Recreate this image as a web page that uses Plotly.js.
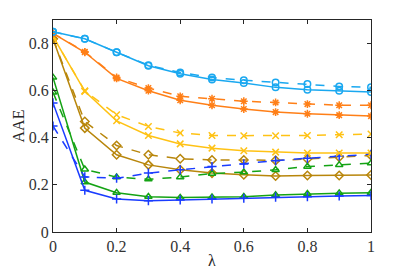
<!DOCTYPE html>
<html><head><meta charset="utf-8">
<script src="https://cdn.plot.ly/plotly-3.0.1.min.js"></script>
<style>html,body{margin:0;padding:0;background:#fff}#chart{width:409px;height:273px}</style>
</head><body><div id="chart"></div>
<script>
const lambda = [0,0.1,0.2,0.3,0.4,0.5,0.6,0.7,0.8,0.9,1.0];
const cyanSolid   = [0.850,0.820,0.763,0.706,0.672,0.647,0.633,0.614,0.604,0.600,0.594];
const cyanDashed  = [0.850,0.820,0.763,0.708,0.677,0.656,0.644,0.635,0.628,0.618,0.614];
const orangeSolid = [0.843,0.763,0.652,0.600,0.559,0.538,0.522,0.509,0.502,0.496,0.492];
const orangeDashed= [0.843,0.765,0.656,0.611,0.576,0.566,0.555,0.550,0.543,0.538,0.538];
const yellowSolid = [0.830,0.597,0.472,0.410,0.374,0.356,0.345,0.339,0.335,0.335,0.335];
const yellowDashed= [0.830,0.599,0.498,0.448,0.420,0.410,0.409,0.409,0.410,0.413,0.416];
const brownSolid  = [0.820,0.441,0.328,0.285,0.264,0.250,0.243,0.238,0.240,0.240,0.242];
const brownDashed = [0.820,0.469,0.367,0.328,0.311,0.306,0.306,0.304,0.310,0.318,0.325];
const greenSolid  = [0.656,0.212,0.167,0.150,0.146,0.148,0.150,0.157,0.162,0.165,0.167];
const greenDashed = [0.593,0.266,0.233,0.224,0.233,0.248,0.254,0.264,0.278,0.285,0.292];
const blueSolid   = [0.548,0.177,0.140,0.133,0.136,0.140,0.143,0.148,0.150,0.153,0.155];
const blueDashed  = [0.450,0.234,0.228,0.250,0.264,0.278,0.289,0.303,0.313,0.323,0.330];
const xTicks = [0,0.2,0.4,0.6,0.8,1];
const xTickText = ['0','0.2','0.4','0.6','0.8','1'];
const yTicks = [0,0.2,0.4,0.6,0.8];
const yTickText = ['0','0.2','0.4','0.6','0.8'];

const C = {cyan:'#1aa8f0', orange:'#ff7f17', yellow:'#ffc214', brown:'#b8860b', green:'#14a314', blue:'#1a3cff'};
function tr(y, color, symbol, dash){
  return {x: lambda, y: y, type:'scatter', mode:'lines+markers',
    line:{color:color, width:1.5, dash:dash},
    marker:{symbol:symbol, size:6.5, color:color, line:{color:color, width:1.5}},
    showlegend:false};
}
const data = [
  tr(brownDashed, C.brown, 'diamond-open', 'dash'),
  tr(brownSolid, C.brown, 'diamond-open', 'solid'),
  tr(greenDashed, C.green, 'triangle-up-open', 'dash'),
  tr(greenSolid, C.green, 'triangle-up-open', 'solid'),
  tr(blueDashed, C.blue, 'cross-thin-open', 'dash'),
  tr(blueSolid, C.blue, 'cross-thin-open', 'solid'),
  tr(yellowDashed, C.yellow, 'x-thin-open', 'dash'),
  tr(yellowSolid, C.yellow, 'x-thin-open', 'solid'),
  tr(orangeDashed, C.orange, 'asterisk-open', 'dash'),
  tr(orangeSolid, C.orange, 'asterisk-open', 'solid'),
  tr(cyanDashed, C.cyan, 'circle-open', 'dash'),
  tr(cyanSolid, C.cyan, 'circle-open', 'solid')
];
const fam = 'Liberation Serif';
const font = {family:fam, size:16, color:'#333333'};
const layout = {
  width:409, height:273,
  margin:{l:53, r:38, t:20, b:41},
  paper_bgcolor:'#fff', plot_bgcolor:'#fff',
  font: font,
  xaxis:{range:[0,1], tickvals:xTicks, ticktext:xTickText, ticks:'inside', ticklen:4,
    tickcolor:'#262626', showline:true, linecolor:'#262626', linewidth:1, mirror:'ticks',
    showgrid:false, zeroline:false, tickfont:font,
    title:{text:'λ', font:{family:fam, size:16, color:'#262626'}, standoff:0}},
  yaxis:{range:[0,0.9], tickvals:yTicks, ticktext:yTickText, ticks:'inside', ticklen:4,
    tickcolor:'#262626', showline:true, linecolor:'#262626', linewidth:1, mirror:'ticks',
    showgrid:false, zeroline:false, tickfont:font,
    title:{text:'AAE', font:{family:fam, size:16, color:'#262626'}, standoff:0}}
};
Plotly.newPlot('chart', data, layout, {displayModeBar:false, staticPlot:true});
</script></body></html>
